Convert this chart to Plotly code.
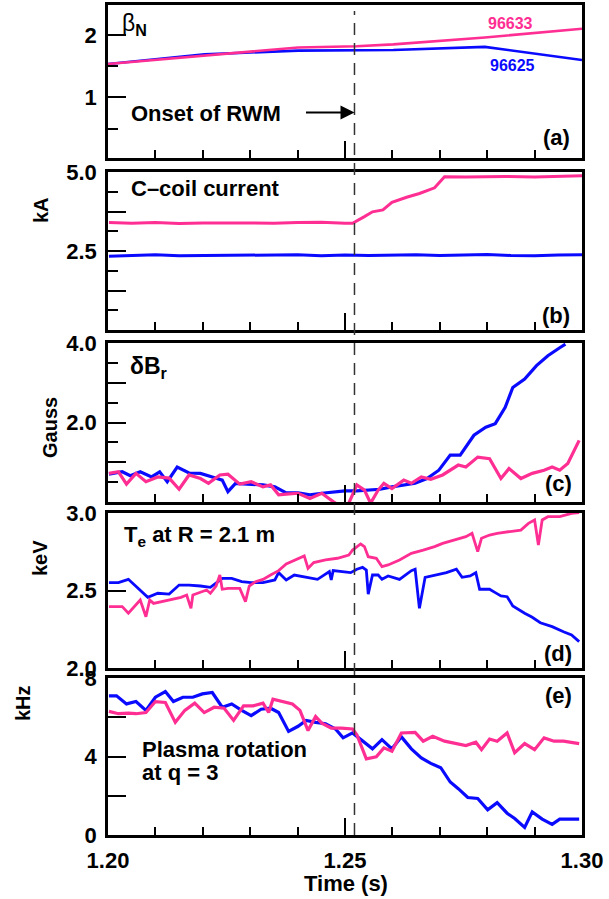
import plotly.graph_objects as go

# ---------------- data ----------------
onset_time = 1.252

# (a) beta_N
a_t_633 = [1.2000, 1.2401, 1.2524, 1.2602, 1.2795, 1.3000]
a_v_633 = [1.535, 1.80, 1.82, 1.85, 1.96, 2.10]
a_t_625 = [1.2000, 1.2204, 1.2401, 1.2602, 1.2795, 1.3000]
a_v_625 = [1.535, 1.69, 1.75, 1.76, 1.81, 1.60]

# (b) C-coil current (kA)
b_t_625 = [1.2002, 1.2050, 1.2100, 1.2150, 1.2200, 1.2250, 1.2300, 1.2350, 1.2400, 1.2450, 1.2500,
           1.2550, 1.2600, 1.2650, 1.2700, 1.2750, 1.2800, 1.2850, 1.2900, 1.2950, 1.3000]
b_v_625 = [2.33, 2.36, 2.38, 2.35, 2.36, 2.37, 2.36, 2.37, 2.38, 2.35, 2.37,
           2.36, 2.37, 2.38, 2.36, 2.37, 2.39, 2.36, 2.35, 2.37, 2.38]
b_t_633 = [1.2002, 1.2050, 1.2100, 1.2150, 1.2200, 1.2250, 1.2300, 1.2350, 1.2400, 1.2450, 1.2500,
           1.2516, 1.2540, 1.2558, 1.2580, 1.2599, 1.2630, 1.2657, 1.2689, 1.2710, 1.2755,
           1.2800, 1.2838, 1.2900, 1.2950, 1.3000]
b_v_633 = [3.40, 3.38, 3.40, 3.37, 3.39, 3.38, 3.39, 3.38, 3.40, 3.41, 3.38,
           3.38, 3.58, 3.74, 3.80, 4.04, 4.20, 4.32, 4.50, 4.85, 4.84,
           4.85, 4.86, 4.84, 4.86, 4.88]

# (c) delta B_r (Gauss)
c_t_625 = [1.2002, 1.2030, 1.2047, 1.2068, 1.2092, 1.2109, 1.2125, 1.2146, 1.2171, 1.2195,
           1.2220, 1.2241, 1.2253, 1.2269, 1.2294, 1.2327, 1.2352, 1.2376, 1.2401, 1.2426,
           1.2451, 1.2475, 1.2500, 1.2525, 1.2549, 1.2574, 1.2599, 1.2624, 1.2648, 1.2673,
           1.2698, 1.2722, 1.2743, 1.2772, 1.2797, 1.2817, 1.2838, 1.2854, 1.2879, 1.2904,
           1.2928, 1.2953, 1.2965]
c_v_625 = [0.70, 0.76, 0.66, 0.76, 0.63, 0.76, 0.51, 0.88, 0.73, 0.72,
           0.63, 0.55, 0.26, 0.47, 0.45, 0.43, 0.38, 0.23, 0.23, 0.18,
           0.22, 0.24, 0.28, 0.28, 0.30, 0.32, 0.38, 0.43, 0.47, 0.59,
           0.80, 1.18, 1.18, 1.68, 1.88, 1.97, 2.38, 2.88, 3.09, 3.43,
           3.68, 3.88, 3.97]
c_t_633 = [1.2002, 1.2022, 1.2039, 1.2059, 1.2080, 1.2105, 1.2129, 1.2150, 1.2171, 1.2195,
           1.2212, 1.2236, 1.2253, 1.2278, 1.2302, 1.2327, 1.2343, 1.2360, 1.2376, 1.2401,
           1.2426, 1.2451, 1.2475, 1.2492, 1.2508, 1.2525, 1.2541, 1.2554, 1.2570, 1.2582,
           1.2599, 1.2624, 1.2640, 1.2661, 1.2681, 1.2706, 1.2739, 1.2755, 1.2780, 1.2805,
           1.2829, 1.2846, 1.2871, 1.2895, 1.2920, 1.2937, 1.2953, 1.2970, 1.2994]
c_v_633 = [0.72, 0.76, 0.45, 0.72, 0.51, 0.63, 0.60, 0.32, 0.68, 0.59,
           0.47, 0.68, 0.70, 0.45, 0.51, 0.38, 0.43, 0.18, 0.20, 0.22,
           0.09, 0.22, 0.01, -0.12, -0.03, 0.43, 0.30, -0.03, 0.30, 0.47,
           0.34, 0.55, 0.47, 0.63, 0.57, 0.68, 0.93, 0.88, 1.13, 1.09,
           0.59, 0.84, 0.59, 0.72, 0.80, 0.88, 0.80, 0.97, 1.55]

# (d) Te at R = 2.1 m (keV)
d_t_625 = [1.2002, 1.2022, 1.2043, 1.2063, 1.2084, 1.2105, 1.2129, 1.2150, 1.2171, 1.2195,
           1.2216, 1.2241, 1.2261, 1.2282, 1.2302, 1.2327, 1.2352, 1.2360, 1.2376, 1.2393,
           1.2418, 1.2442, 1.2467, 1.2471, 1.2475, 1.2492, 1.2512, 1.2525, 1.2537, 1.2545,
           1.2549, 1.2558, 1.2570, 1.2578, 1.2591, 1.2615, 1.2640, 1.2648, 1.2657, 1.2669,
           1.2689, 1.2714, 1.2735, 1.2747, 1.2764, 1.2776, 1.2784, 1.2805, 1.2817, 1.2829,
           1.2842, 1.2854, 1.2879, 1.2895, 1.2912, 1.2937, 1.2961, 1.2978, 1.2994]
d_v_625 = [2.551, 2.551, 2.572, 2.514, 2.456, 2.482, 2.477, 2.535, 2.535, 2.529,
           2.520, 2.578, 2.578, 2.557, 2.551, 2.551, 2.568, 2.615, 2.568, 2.600,
           2.585, 2.572, 2.622, 2.568, 2.628, 2.622, 2.615, 2.637, 2.649, 2.632,
           2.477, 2.600, 2.600, 2.572, 2.594, 2.572, 2.628, 2.637, 2.385, 2.585,
           2.600, 2.615, 2.637, 2.585, 2.594, 2.615, 2.508, 2.508, 2.486, 2.465,
           2.460, 2.400, 2.353, 2.327, 2.292, 2.267, 2.234, 2.213, 2.170]
d_t_633 = [1.2002, 1.2030, 1.2043, 1.2055, 1.2068, 1.2080, 1.2088, 1.2096, 1.2113, 1.2129,
           1.2154, 1.2166, 1.2175, 1.2179, 1.2195, 1.2208, 1.2216, 1.2228, 1.2236, 1.2241,
           1.2253, 1.2278, 1.2290, 1.2298, 1.2311, 1.2327, 1.2343, 1.2360, 1.2376, 1.2393,
           1.2414, 1.2422, 1.2434, 1.2459, 1.2484, 1.2508, 1.2516, 1.2533, 1.2541, 1.2549,
           1.2566, 1.2578, 1.2591, 1.2615, 1.2640, 1.2665, 1.2689, 1.2706, 1.2731, 1.2755,
           1.2768, 1.2780, 1.2788, 1.2805, 1.2821, 1.2846, 1.2871, 1.2887, 1.2900, 1.2908,
           1.2916, 1.2928, 1.2953, 1.2978, 1.2994]
d_v_633 = [2.396, 2.396, 2.353, 2.396, 2.439, 2.331, 2.439, 2.417, 2.428, 2.443,
           2.456, 2.471, 2.385, 2.471, 2.486, 2.503, 2.482, 2.529, 2.600, 2.508,
           2.514, 2.514, 2.428, 2.529, 2.557, 2.572, 2.600, 2.628, 2.671, 2.692,
           2.723, 2.643, 2.680, 2.697, 2.708, 2.729, 2.761, 2.800, 2.783, 2.718,
           2.708, 2.654, 2.665, 2.697, 2.740, 2.761, 2.783, 2.804, 2.826, 2.847,
           2.869, 2.751, 2.837, 2.858, 2.869, 2.880, 2.890, 2.933, 2.955, 2.794,
           2.955, 2.976, 2.976, 2.998, 3.002]

# (e) plasma rotation at q = 3 (kHz)
e_t_625 = [1.2002, 1.2018, 1.2039, 1.2059, 1.2080, 1.2100, 1.2121, 1.2138, 1.2158, 1.2179,
           1.2199, 1.2220, 1.2241, 1.2261, 1.2282, 1.2302, 1.2323, 1.2343, 1.2360, 1.2381,
           1.2401, 1.2418, 1.2438, 1.2459, 1.2480, 1.2496, 1.2516, 1.2541, 1.2558, 1.2578,
           1.2599, 1.2619, 1.2640, 1.2661, 1.2681, 1.2702, 1.2722, 1.2739, 1.2759, 1.2780,
           1.2801, 1.2821, 1.2842, 1.2858, 1.2879, 1.2895, 1.2916, 1.2937, 1.2953, 1.2970,
           1.2994]
e_v_625 = [7.09, 7.09, 6.68, 6.80, 6.35, 7.02, 7.31, 6.80, 7.02, 7.02,
           7.19, 7.26, 6.51, 6.68, 6.35, 6.08, 6.41, 6.46, 6.24, 5.28,
           5.54, 5.84, 5.74, 5.67, 5.40, 4.95, 5.20, 4.69, 4.39, 4.86,
           4.39, 5.00, 4.39, 3.93, 3.65, 3.43, 2.70, 2.36, 1.91, 1.86,
           1.28, 1.65, 1.11, 0.84, 0.39, 1.18, 0.81, 0.54, 0.81, 0.81,
           0.81]
e_t_633 = [1.2002, 1.2022, 1.2043, 1.2059, 1.2080, 1.2100, 1.2121, 1.2142, 1.2162, 1.2183,
           1.2203, 1.2224, 1.2245, 1.2265, 1.2286, 1.2306, 1.2327, 1.2339, 1.2348, 1.2368,
           1.2389, 1.2405, 1.2422, 1.2438, 1.2451, 1.2471, 1.2492, 1.2516, 1.2525, 1.2545,
           1.2566, 1.2582, 1.2599, 1.2619, 1.2648, 1.2665, 1.2685, 1.2710, 1.2735, 1.2755,
           1.2776, 1.2788, 1.2805, 1.2821, 1.2842, 1.2858, 1.2879, 1.2900, 1.2920, 1.2941,
           1.2961, 1.2994]
e_v_633 = [6.30, 6.18, 6.21, 6.18, 6.24, 6.80, 6.75, 5.74, 6.35, 6.72,
           6.24, 6.51, 6.46, 5.84, 6.58, 6.58, 6.72, 6.24, 6.92, 6.80,
           6.68, 6.35, 5.32, 6.04, 5.70, 5.45, 5.45, 5.40, 5.11, 3.88,
           3.98, 4.44, 4.27, 5.20, 5.23, 4.78, 5.03, 4.78, 4.66, 4.56,
           4.73, 4.35, 4.89, 4.78, 5.20, 4.19, 4.66, 4.35, 4.95, 4.78,
           4.78, 4.66]

x_ticks = [1.20, 1.25, 1.30]
shot_labels = ["96633", "96625"]

# ---------------- styling ----------------
W, H = 609, 899
ML, MR, MT, MB = 108, 27, 5, 64
PW = W - ML - MR
PH = H - MT - MB
BLUE = "#0a0aff"
PINK = "#ff2e93"
FONT = "Liberation Sans"


def px_x(px):
    return (px - ML) / PW


def px_y(py):
    return (H - MB - py) / PH


panels = [(5, 158), (172, 330), (343, 502), (513, 668), (678, 835)]

fig = go.Figure()

series = [
    (a_t_625, a_v_625, a_t_633, a_v_633, 2.6),
    (b_t_625, b_v_625, b_t_633, b_v_633, 3),
    (c_t_625, c_v_625, c_t_633, c_v_633, 3.2),
    (d_t_625, d_v_625, d_t_633, d_v_633, 2.8),
    (e_t_625, e_v_625, e_t_633, e_v_633, 3.2),
]
for i, (tb, vb, tp, vp, lw) in enumerate(series):
    sfx = "" if i == 0 else str(i + 1)
    fig.add_trace(go.Scatter(x=tb, y=vb, mode="lines", line=dict(color=BLUE, width=lw),
                             xaxis="x" + sfx, yaxis="y" + sfx, showlegend=False))
    fig.add_trace(go.Scatter(x=tp, y=vp, mode="lines", line=dict(color=PINK, width=lw),
                             xaxis="x" + sfx, yaxis="y" + sfx, showlegend=False))

yspecs = [
    dict(range=[0.03, 2.48], tickvals=[1, 2], ticktext=["1", "2"], minor=0.5),
    dict(range=[0, 5.0], tickvals=[1.25, 2.5, 3.75, 5.0], ticktext=["", "2.5", "", "5.0"], minor=0.625),
    dict(range=[0, 4.0], tickvals=[1, 2, 3, 4], ticktext=["", "2.0", "", "4.0"], minor=0.5),
    dict(range=[2.0, 3.0], tickvals=[2.0, 2.5, 3.0], ticktext=["2.0", "2.5", "3.0"], minor=None),
    dict(range=[0, 8], tickvals=[0, 2, 4, 6, 8], ticktext=["0", "", "4", "", "8"], minor=None),
]

layout = dict(
    width=W, height=H, margin=dict(l=ML, r=MR, t=MT, b=MB, autoexpand=False),
    plot_bgcolor="white", paper_bgcolor="white",
    font=dict(family=FONT, color="black"),
)
for i, (top, bot) in enumerate(panels):
    sfx = "" if i == 0 else str(i + 1)
    ys = yspecs[i]
    xa = dict(
        domain=[0, 1], range=[1.2, 1.3], anchor="y" + sfx, automargin=False,
        showline=True, mirror=True, linewidth=2.5, linecolor="black",
        ticks="inside", tickmode="array", tickvals=x_ticks, ticklen=17, tickwidth=1.5, tickcolor="black",
        minor=dict(tick0=1.2, dtick=0.01, ticklen=8, tickwidth=1.5, tickcolor="black", ticks="inside"),
        showgrid=False, zeroline=False,
        showticklabels=(i == 4), tickformat=".2f", ticklabelstandoff=4,
        tickfont=dict(family=FONT, size=22, weight="bold", color="black"),
    )
    ya = dict(
        domain=[px_y(bot), px_y(top)], range=ys["range"], anchor="x" + sfx, automargin=False,
        showline=True, mirror=True, linewidth=2.5, linecolor="black",
        ticks="inside", tickmode="array", tickvals=ys["tickvals"], ticktext=ys["ticktext"],
        ticklen=18, tickwidth=1.5, tickcolor="black",
        showgrid=False, zeroline=False, ticklabelstandoff=4,
        tickfont=dict(family=FONT, size=22, weight="bold", color="black"),
    )
    if ys["minor"]:
        ya["minor"] = dict(tick0=0, dtick=ys["minor"], ticklen=10, tickwidth=1.5,
                           tickcolor="black", ticks="inside")
    layout["xaxis" + sfx] = xa
    layout["yaxis" + sfx] = ya

fig.update_layout(**layout)

# dashed onset line across all panels
fig.add_shape(type="line", xref="x5", yref="paper", x0=onset_time, x1=onset_time,
              y0=0, y1=px_y(11), line=dict(color="#333333", width=1.5, dash="12px,8px"))


def ann(text, px, py, size=22, color="black", xanchor="left", angle=0, bold=True):
    fig.add_annotation(text=text, xref="paper", yref="paper", x=px_x(px), y=px_y(py),
                       xanchor=xanchor, yanchor="middle", showarrow=False, textangle=angle,
                       font=dict(family=FONT, size=size, color=color,
                                 weight="bold" if bold else "normal"))


# panel (a)
ann("β<sub><b>N</b></sub>", 120, 25, size=23, bold=False)
ann("Onset of RWM", 129, 113)
ann(shot_labels[0], 510, 23, size=16, color=PINK, xanchor="center")
ann(shot_labels[1], 512, 65, size=16, color=BLUE, xanchor="center")
ann("(a)", 572, 138, xanchor="right")
fig.add_annotation(xref="x", yref="y", x=onset_time, y=0.76, ax=-50, ay=0, text="",
                   showarrow=True, arrowhead=2, arrowsize=1.4, arrowwidth=2,
                   arrowcolor="black", standoff=0)
# panel (b)
ann("C–coil current", 129, 189)
ann("(b)", 572, 315, xanchor="right")
# panel (c)
ann("δB<sub>r</sub>", 128, 368, size=23)
ann("(c)", 574, 484, xanchor="right")
# panel (d)
ann("T<sub>e</sub> at R = 2.1 m", 122, 536)
ann("(d)", 574, 653, xanchor="right")
# panel (e)
ann("(e)", 574, 695, xanchor="right")
ann("Plasma rotation", 140, 749)
ann("at q = 3", 140, 772)

# axis titles
ann("kA", 41, 210, size=20, xanchor="center", angle=-90)
ann("Gauss", 50, 428, size=20, xanchor="center", angle=-90)
ann("keV", 40, 558, size=20, xanchor="center", angle=-90)
ann("kHz", 23, 703, size=20, xanchor="center", angle=-90)
ann("Time (s)", 346, 883, size=22, xanchor="center")

fig.write_html("out.html")
